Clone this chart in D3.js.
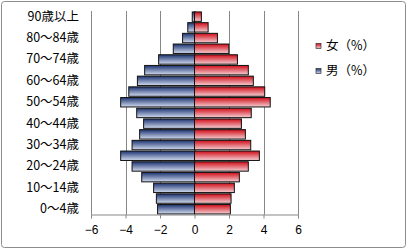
<!DOCTYPE html>
<html><head><meta charset="utf-8">
<script src="https://cdn.jsdelivr.net/npm/d3@7"></script>
<style>body{margin:0;background:#fff}svg{display:block}text{font-family:"Noto Sans CJK JP","Noto Sans",sans-serif;fill:#000}</style>
</head><body><svg id="c" width="407" height="249"></svg>
<script>
const categories = ["0～4歳","5～9歳","10～14歳","15～19歳","20～24歳","25～29歳","30～34歳","35～39歳","40～44歳","45～49歳","50～54歳","55～59歳","60～64歳","65～69歳","70～74歳","75～79歳","80～84歳","85～89歳","90歳以上"];
const male = [-2.14,-2.21,-2.37,-3.06,-3.62,-4.28,-3.62,-3.18,-2.95,-3.35,-4.28,-3.81,-3.31,-2.89,-2.08,-1.23,-0.69,-0.39,-0.13];
const female = [2.08,2.12,2.31,2.60,3.12,3.76,3.26,2.95,2.72,3.29,4.39,4.07,3.41,3.12,2.49,1.99,1.33,0.79,0.40];
const xTicks = [-6,-4,-2,0,2,4,6];
const seriesNames = ["女（%）","男（%）"];

const svg = d3.select("#c");
const defs = svg.append("defs");
function grad(id, c1, c2){
  const g = defs.append("linearGradient").attr("id",id).attr("x1",0).attr("y1",0).attr("x2",0).attr("y2",1);
  g.append("stop").attr("offset","0%").attr("stop-color",c1);
  g.append("stop").attr("offset","100%").attr("stop-color",c2);
}
grad("gb","#1c3370","#d3dcf0");
grad("gr","#d00c18","#f5d0d4");

svg.append("rect").attr("x",1.5).attr("y",1.5).attr("width",404).attr("height",246).attr("rx",3)
  .attr("fill","#fff").attr("stroke","#8c8c8c");

const x = d3.scaleLinear().domain([-6,6]).range([91,298]);
const y = d3.scaleBand().domain(categories.slice().reverse()).range([11.3,214.6]).paddingInner(0.12).paddingOuter(0.06);

// gridlines
svg.append("g").selectAll("line").data(xTicks).join("line")
  .attr("x1",d=>Math.round(x(d))+0.5).attr("x2",d=>Math.round(x(d))+0.5)
  .attr("y1",11).attr("y2",214.5).attr("stroke","#878787");

// bars
const gb = svg.append("g");
gb.selectAll("rect.m").data(categories.map((c,i)=>({c,v:male[i]}))).join("rect")
  .attr("x",d=>x(d.v)).attr("width",d=>x(0)-x(d.v)).attr("y",d=>y(d.c)).attr("height",y.bandwidth())
  .attr("fill","url(#gb)").attr("stroke","#111").attr("stroke-width",1);
gb.selectAll("rect.f").data(categories.map((c,i)=>({c,v:female[i]}))).join("rect")
  .attr("x",x(0)).attr("width",d=>x(d.v)-x(0)).attr("y",d=>y(d.c)).attr("height",y.bandwidth())
  .attr("fill","url(#gr)").attr("stroke","#111").attr("stroke-width",1);

// x axis
const xa = d3.axisBottom(x).tickValues(xTicks).tickSize(4).tickPadding(7).tickFormat(d3.format("d"));
const gx = svg.append("g").attr("transform","translate(0,214.5)").call(xa);
gx.select(".domain").attr("stroke","#878787");
gx.selectAll(".tick line").attr("stroke","#878787");
gx.selectAll("text").attr("font-size",12).style("font-family","'Liberation Sans',sans-serif");

// y labels every other
const ya = d3.axisLeft(y).tickSize(0).tickPadding(0).tickFormat((d,i)=>{const k=categories.indexOf(d);return k%2===0?d:"";});
const gy = svg.append("g").attr("transform","translate(79,0)").call(ya);
gy.select(".domain").remove();
gy.selectAll("text").attr("font-size",12.5);

// legend
const legColors = ["url(#gr)","url(#gb)"];
const lg = svg.append("g");
seriesNames.forEach((n,i)=>{
  const yy = 46 + i*25;
  lg.append("rect").attr("x",316).attr("y",yy-2.5).attr("width",5).attr("height",5)
    .attr("fill",legColors[i]).attr("stroke","#333").attr("stroke-width",0.7);
  lg.append("text").attr("x",326).attr("y",yy).attr("dy","0.35em").attr("font-size",12.5).text(n);
});
</script></body></html>
